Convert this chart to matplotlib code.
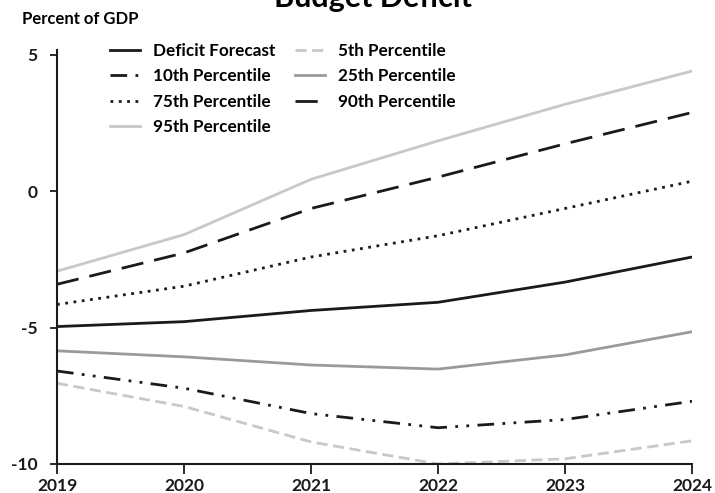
import matplotlib.pyplot as plt

plt.rcParams['font.family'] = ['Lato', 'DejaVu Sans']
plt.rcParams['font.weight'] = 'bold'
plt.rcParams['axes.unicode_minus'] = False

anios = [2019, 2020, 2021, 2022, 2023, 2024]
pronostico = [-4.96, -4.78, -4.37, -4.07, -3.33, -2.41]
p5 = [-7.04, -7.89, -9.19, -10.0, -9.81, -9.15]
p10 = [-6.59, -7.22, -8.15, -8.67, -8.37, -7.70]
p25 = [-5.85, -6.07, -6.37, -6.52, -6.00, -5.15]
p75 = [-4.15, -3.48, -2.41, -1.63, -0.63, 0.37]
p90 = [-3.41, -2.26, -0.63, 0.52, 1.74, 2.89]
p95 = [-2.93, -1.59, 0.44, 1.85, 3.19, 4.41]

negro = '#1a1a1a'
gris_claro = '#c8c8c8'
gris = '#9a9a9a'

# ejes: 5 -> y=55 px, -10 -> y=464 px, tope del eje ~5.2
fig = plt.figure(figsize=(7.15, 4.93), dpi=100)
ax = fig.add_axes([57/715, 1 - 464/493, (692 - 57)/715, (464 - 49.5)/493])

lw = 2.0
l_def, = ax.plot(anios, pronostico, color=negro, lw=lw, label='Deficit Forecast')
l_p5, = ax.plot(anios, p5, color=gris_claro, lw=lw, ls=(0, (4, 2)), label='5th Percentile')
l_p10, = ax.plot(anios, p10, color=negro, lw=lw, ls=(0, (6, 3, 1, 3, 1, 3)), label='10th Percentile')
l_p25, = ax.plot(anios, p25, color=gris, lw=lw, label='25th Percentile')
l_p75, = ax.plot(anios, p75, color=negro, lw=lw, ls=(0, (1, 2)), label='75th Percentile')
l_p90, = ax.plot(anios, p90, color=negro, lw=lw, ls=(0, (8, 4)), label='90th Percentile')
l_p95, = ax.plot(anios, p95, color=gris_claro, lw=lw, label='95th Percentile')

handles = [l_def, l_p10, l_p75, l_p95, l_p5, l_p25, l_p90]
ax.legend(handles=handles, ncol=2, loc='upper left',
          bbox_to_anchor=(110/715, 1 - 43/493), bbox_transform=fig.transFigure,
          borderaxespad=0, borderpad=0,
          frameon=False, fontsize=12.3, handlelength=1.75, handletextpad=0.75,
          columnspacing=1.2, labelspacing=0.55)

ax.set_xlim(2019, 2024)
ax.set_ylim(-10, 5.2)
ax.set_xticks(anios)
ax.set_yticks([5, 0, -5, -10])
ax.tick_params(labelsize=12.5, width=1.3, colors=negro)
ax.tick_params(axis='x', length=7, pad=3)
ax.tick_params(axis='y', length=5, pad=9)
for s in ['top', 'right']:
    ax.spines[s].set_visible(False)
for s in ['left', 'bottom']:
    ax.spines[s].set_linewidth(1.5)
    ax.spines[s].set_color(negro)

fig.text(373/715, 1 - 7/493, 'Budget Deficit', ha='center', va='baseline', fontsize=22, fontweight='bold')
fig.text(22/715, 1 - 19/493, 'Percent of GDP', ha='left', va='center', fontsize=12, fontweight='bold')

plt.savefig('out.png', dpi=100)
